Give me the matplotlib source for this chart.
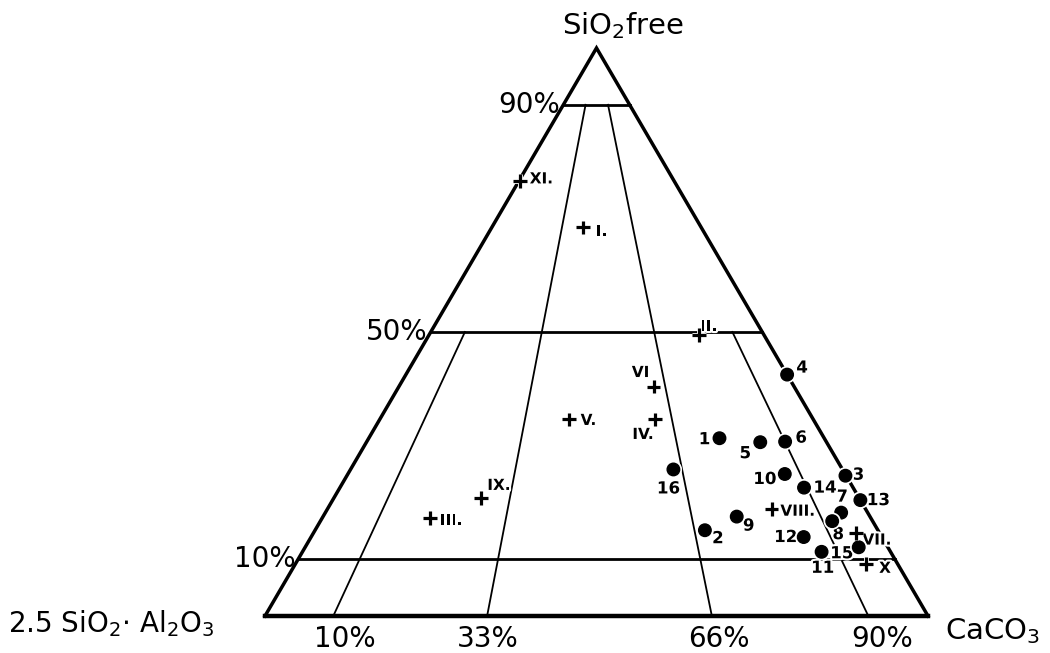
import matplotlib
matplotlib.use("Agg")
import matplotlib.pyplot as plt
import matplotlib.patheffects as pe

# compositions in %: SiO2 free (top) and CaCO3 (right); the rest is 2.5SiO2.Al2O3
sample_names = ["1", "2", "3", "4", "5", "6", "7", "8",
                "9", "10", "11", "12", "13", "14", "15", "16"]
sample_sio2 = [31.3, 15.1, 24.7, 42.5, 30.6, 30.7, 18.2, 16.7,
               17.5, 25.0, 11.3, 13.9, 20.4, 22.6, 12.1, 25.8]
sample_caco3 = [52.9, 58.8, 75.2, 57.5, 59.4, 63.1, 77.8, 77.2,
                62.4, 65.9, 78.3, 74.3, 79.6, 70.0, 83.5, 48.7]

std_names = ["I.", "II.", "III.", "IV.", "V.", "VI", "VII.", "VIII.", "IX.", "X", "XI."]
std_sio2 = [68.4, 49.4, 17.2, 34.6, 34.6, 40.4, 14.6, 18.8, 20.7, 9.1, 76.6]
std_caco3 = [13.7, 40.7, 16.3, 41.5, 28.6, 38.4, 81.8, 67.0, 22.2, 86.1, 0.2]

# horizontal SiO2 levels
levels = [10, 50, 90]
level_labels = ["10%", "50%", "90%"]

# lines of constant CaCO3 share, drawn from the base up to a SiO2 level
ratios = [10.3, 33.5, 67.4, 91.0]
ratio_tops = [50, 90, 90, 50]
ratio_labels = ["10%", "33%", "66%", "90%"]


def tern(s, c):
    s = s / 100.0
    c = c / 100.0
    return c + s / 2.0, s


fig = plt.figure(figsize=(10.5, 6.53), dpi=100)
ax = fig.add_axes([265 / 1050, 37 / 653, 663 / 1050, 568 / 653])
ax.set_xlim(0, 1)
ax.set_ylim(0, 1)
ax.set_axis_off()

halo = [pe.withStroke(linewidth=3.5, foreground="white")]
thalo = [pe.withStroke(linewidth=3, foreground="white")]

# triangle
ax.plot([0, 0.5, 1], [0, 1, 0], color="black", lw=2.5, clip_on=False,
        solid_joinstyle="miter", zorder=1)
ax.plot([0, 1], [0, 0], color="black", lw=3.2, clip_on=False, zorder=1)

for lv in levels:
    x0, y0 = tern(lv, 0)
    x1, y1 = tern(lv, 100 - lv)
    ax.plot([x0, x1], [y0, y1], color="black", lw=2.0, clip_on=False, zorder=1)

for r, top in zip(ratios, ratio_tops):
    xb, yb = tern(0, r)
    xt, yt = tern(top, r * (100 - top) / 100)
    ax.plot([xb, xt], [yb, yt], color="black", lw=1.3, clip_on=False, zorder=1)

# left side level labels
for lv, lab in zip(levels, level_labels):
    ax.annotate(lab, tern(lv, 0), xytext=(-3, 0), textcoords="offset pixels",
                ha="right", va="center", fontsize=20)

# base labels
tick_dx = [12, 1, 7, 14]
for r, lab, dx in zip(ratios, ratio_labels, tick_dx):
    ax.annotate(lab, tern(0, r), xytext=(dx, -23), textcoords="offset pixels",
                ha="center", va="center", fontsize=20)

# samples
sx, sy = zip(*[tern(s, c) for s, c in zip(sample_sio2, sample_caco3)])
ax.plot(sx, sy, "o", color="black", ms=9, ls="none", clip_on=False,
        path_effects=halo, zorder=5)
sample_off = [(-15, -1), (13, -8), (13, 1), (15, 7), (-15, -11), (16, 4),
              (1, 16), (6, -13), (12, -9), (-20, -5), (1, -16), (-18, 0),
              (18, 0), (21, 0), (-17, -6), (-5, -19)]
for name, x, y, off in zip(sample_names, sx, sy, sample_off):
    ax.annotate(name, (x, y), xytext=off, textcoords="offset pixels",
                ha="center", va="center", fontsize=12, fontweight="bold",
                path_effects=thalo, zorder=4)

# standards
tx, ty = zip(*[tern(s, c) for s, c in zip(std_sio2, std_caco3)])
ax.plot(tx, ty, "+", color="black", ms=10, mew=2.3, ls="none", clip_on=False,
        path_effects=halo, zorder=5)
std_off = [(19, -4), (10, 9), (21, -2), (-12, -15), (19, -1), (-13, 14),
           (21, -7), (26, -2), (18, 13), (19, -4), (21, 2)]
for name, x, y, off in zip(std_names, tx, ty, std_off):
    ax.annotate(name, (x, y), xytext=off, textcoords="offset pixels",
                ha="center", va="center", fontsize=11, fontweight="bold",
                path_effects=thalo, zorder=4)

# corner titles
fig.text(623 / 1050, 1 - 26 / 653, "SiO$_2$free", ha="center", va="center", fontsize=21)
fig.text(8 / 1050, 1 - 624 / 653, "2.5 SiO$_2$$\\cdot$ Al$_2$O$_3$", ha="left",
         va="center", fontsize=20)
fig.text(945 / 1050, 1 - 631 / 653, "CaCO$_3$", ha="left", va="center", fontsize=21)

fig.savefig("out.png", dpi=100, facecolor="white")
